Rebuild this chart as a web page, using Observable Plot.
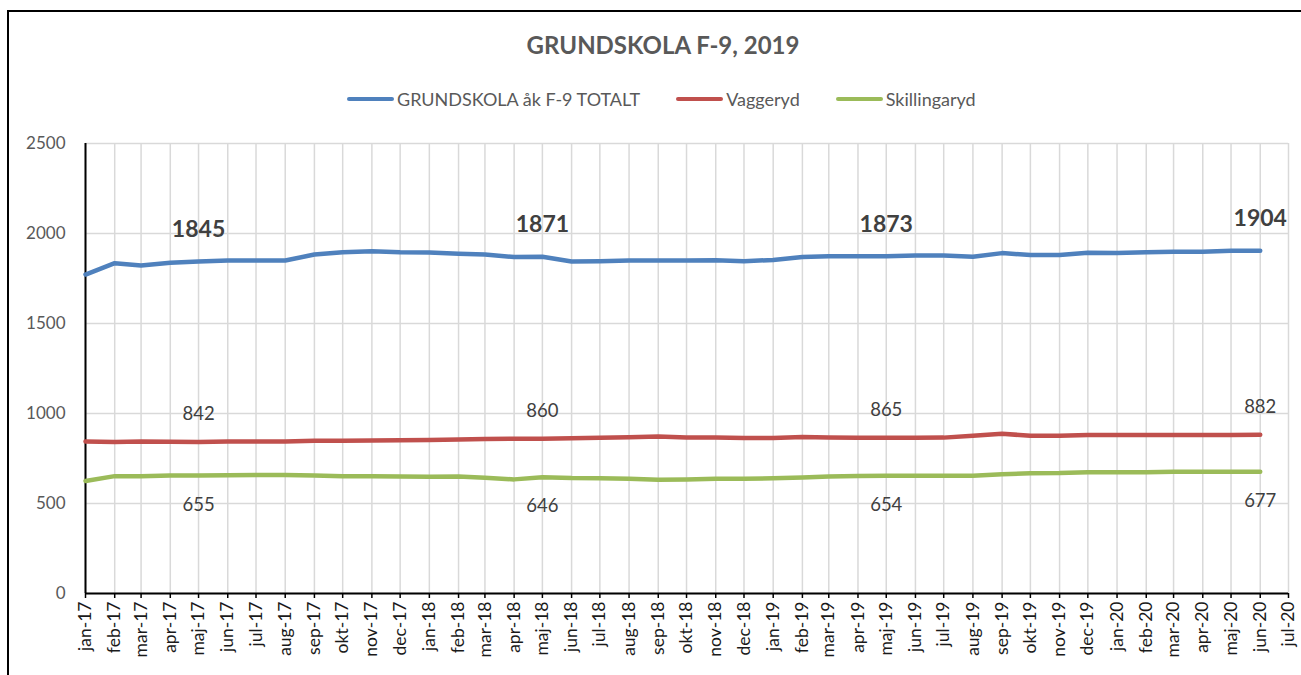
<!DOCTYPE html>
<html><head><meta charset="utf-8">
<script src="https://cdn.jsdelivr.net/npm/d3@7"></script>
<script src="https://cdn.jsdelivr.net/npm/@observablehq/plot@0.6"></script>
<style>
body{margin:0;background:#fff;font-family:Lato,"Open Sans",sans-serif;}
#frame{position:relative;width:1301px;height:675px;overflow:hidden;background:#fff;}
#border{position:absolute;left:7px;top:10px;width:1400px;height:700px;border-left:2px solid #000;border-top:2px solid #000;}
#title{position:absolute;top:30px;left:0;width:1326px;text-align:center;font-weight:bold;font-size:24px;color:#595959;}
#legend{position:absolute;top:88px;left:347px;display:flex;align-items:center;font-size:18px;color:#595959;white-space:nowrap;}
.item{display:flex;align-items:center;margin-right:36px;}
.sw{width:47px;height:4px;border-radius:2px;margin-right:3px;}
#chart{position:absolute;left:0;top:120px;}
</style></head>
<body>
<div id="frame">
<div id="border"></div>
<div id="title">GRUNDSKOLA F-9, 2019</div>
<div id="legend"></div>
<div id="chart"></div>
</div>
<script>
const tickLabels = ["jan-17","feb-17","mar-17","apr-17","maj-17","jun-17","jul-17","aug-17","sep-17","okt-17","nov-17","dec-17",
"jan-18","feb-18","mar-18","apr-18","maj-18","jun-18","jul-18","aug-18","sep-18","okt-18","nov-18","dec-18",
"jan-19","feb-19","mar-19","apr-19","maj-19","jun-19","jul-19","aug-19","sep-19","okt-19","nov-19","dec-19",
"jan-20","feb-20","mar-20","apr-20","maj-20","jun-20","jul-20"];
const monthNames = ["jan","feb","mar","apr","maj","jun","jul","aug","sep","okt","nov","dec"];
const seriesNames = ["GRUNDSKOLA åk F-9 TOTALT","Vaggeryd","Skillingaryd"];
const seriesColors = ["#4f81bd","#c0504d","#9bbb59"];
const total = [1772,1835,1822,1837,1845,1850,1850,1850,1883,1896,1902,1896,
1894,1887,1883,1869,1871,1844,1846,1850,1850,1850,1852,1846,
1853,1869,1874,1874,1873,1878,1878,1871,1891,1881,1880,1893,
1891,1896,1898,1898,1904,1904];
const vaggeryd = [845,842,845,843,842,845,845,845,848,848,850,852,
853,855,858,860,860,862,865,868,872,867,866,864,
864,870,866,865,865,865,866,877,888,876,877,881,
880,880,880,880,881,882];
const skillingaryd = [625,652,652,655,655,657,658,658,655,652,651,650,
649,650,643,634,646,641,640,638,632,634,637,637,
640,644,650,653,654,654,654,654,663,668,669,674,
673,674,676,677,677,677];
const labelIdx = [4,16,28,41];
const yTicks = [0,500,1000,1500,2000,2500];

const dates = tickLabels.map(s => {
  const [m, y] = s.split("-");
  return new Date(Date.UTC(2000 + +y, monthNames.indexOf(m), 1));
});
const labelOf = new Map(dates.map((d, i) => [+d, tickLabels[i]]));
const toRows = arr => arr.map((v, i) => ({date: dates[i], value: v}));
const rows = [total, vaggeryd, skillingaryd].map(toRows);
const pick = r => labelIdx.map(i => r[i]);

// legend
const leg = document.getElementById("legend");
seriesNames.forEach((n, i) => {
  const it = document.createElement("div"); it.className = "item";
  const sw = document.createElement("div"); sw.className = "sw"; sw.style.background = seriesColors[i];
  const tx = document.createElement("span"); tx.textContent = n;
  it.appendChild(sw); it.appendChild(tx); leg.appendChild(it);
});

const chart = Plot.plot({
  width: 1301, height: 555,
  marginLeft: 85, marginRight: 13, marginTop: 23, marginBottom: 82,
  style: {fontFamily: "Lato, 'Open Sans', sans-serif", background: "transparent", overflow: "visible"},
  x: {type: "utc", domain: [dates[0], dates[dates.length - 1]]},
  y: {domain: [0, 2500]},
  marks: [
    Plot.gridX(dates, {stroke: "#d9d9d9", strokeOpacity: 1, strokeWidth: 1.5}),
    Plot.gridY(yTicks, {stroke: "#d9d9d9", strokeOpacity: 1, strokeWidth: 1.5}),
    Plot.axisY(yTicks, {tickSize: 0, tickPadding: 20, fontSize: 17, fill: "#595959", tickFormat: d => String(d), label: null}),
    Plot.axisX(dates, {tickFormat: d => labelOf.get(+d), tickRotate: -90, tickSize: 5, tickPadding: 3, fontSize: 17.5, fill: "#1a1a1a", stroke: "#000", strokeWidth: 1.5, label: null}),
    Plot.ruleX([dates[0]], {stroke: "#000", strokeWidth: 2}),
    Plot.ruleY([0], {stroke: "#000", strokeWidth: 2}),
    ...rows.map((r, i) => Plot.line(r, {x: "date", y: "value", stroke: seriesColors[i], strokeWidth: 4.5, strokeLinecap: "round", strokeLinejoin: "round"})),
    Plot.text(pick(rows[0]), {x: "date", y: "value", text: d => String(d.value), dy: -32, fontSize: 23, fontWeight: "bold", fill: "#404040"}),
    Plot.text(pick(rows[1]), {x: "date", y: "value", text: d => String(d.value), dy: -28, fontSize: 18.5, fill: "#404040"}),
    Plot.text(pick(rows[2]), {x: "date", y: "value", text: d => String(d.value), dy: 29, fontSize: 18.5, fill: "#404040"})
  ]
});
document.getElementById("chart").appendChild(chart);
</script>
</body></html>
